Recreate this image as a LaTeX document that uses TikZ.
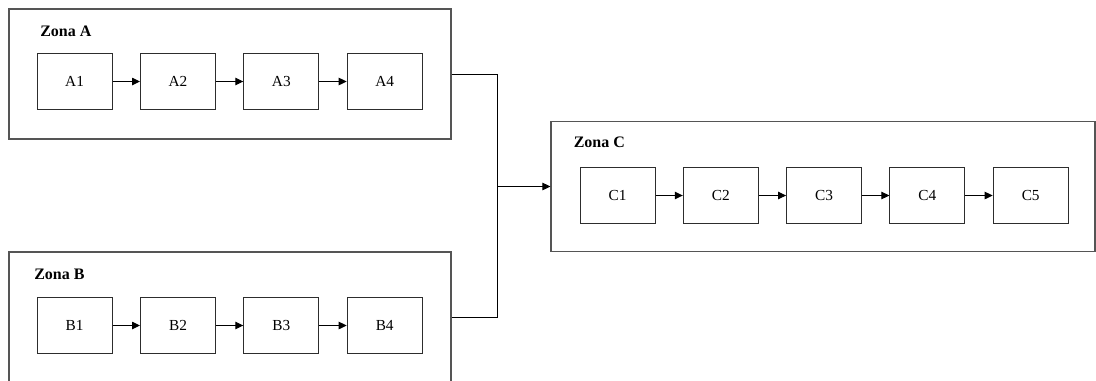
\documentclass[tikz,border=0pt]{standalone}
\usepackage{fontspec}
\setmainfont{Liberation Serif}
\usetikzlibrary{arrows.meta}
\definecolor{zoneline}{RGB}{85,85,85}
\definecolor{boxline}{RGB}{45,45,45}
\tikzset{
  zone/.style={draw=zoneline, line width=0.85pt, fill=white, inner sep=0pt,
    minimum height=97.5pt, anchor=center},
  stepbox/.style={draw=boxline, line width=0.75pt, fill=white, inner sep=0pt,
    minimum width=56.25pt, minimum height=42pt, font=\fontsize{11.5}{13}\selectfont},
  zonelabel/.style={anchor=west, inner sep=0pt, font=\fontsize{12}{14}\selectfont\bfseries},
  flow/.style={draw=black, line width=0.75pt, -{Triangle[length=6pt,width=5.6pt]}},
  link/.style={draw=black, line width=0.75pt}
}
\begin{document}
\begin{tikzpicture}[x=0.75pt, y=-0.75pt]
\useasboundingbox (0,0) rectangle (1096,380);
\clip (0,0) rectangle (1096,380);
% zones
\node[zone, minimum width=331.5pt] (zoneA) at (230,74) {};
\node[zone, minimum width=331.5pt] (zoneB) at (230,317) {};
\node[zone, minimum width=408pt] (zoneC) at (823,186.5) {};
% labels
\node[zonelabel] (labA) at (40,31.5) {Zona A};
\node[zonelabel] (labB) at (34,274.5) {Zona B};
\node[zonelabel] (labC) at (573.5,142) {Zona C};
% zone A boxes
\node[stepbox] (A1) at (74.6,81.5) {A1};
\node[stepbox] (A2) at (178,81.5) {A2};
\node[stepbox] (A3) at (281.3,81.5) {A3};
\node[stepbox] (A4) at (384.7,81.5) {A4};
% zone B boxes
\node[stepbox] (B1) at (74.6,325.5) {B1};
\node[stepbox] (B2) at (178,325.5) {B2};
\node[stepbox] (B3) at (281.3,325.5) {B3};
\node[stepbox] (B4) at (384.7,325.5) {B4};
% zone C boxes
\node[stepbox] (C1) at (617.5,195.5) {C1};
\node[stepbox] (C2) at (720.8,195.5) {C2};
\node[stepbox] (C3) at (824.1,195.5) {C3};
\node[stepbox] (C4) at (927.4,195.5) {C4};
\node[stepbox] (C5) at (1030.7,195.5) {C5};
% arrows inside zones
\draw[flow] (A1) -- (A2);
\draw[flow] (A2) -- (A3);
\draw[flow] (A3) -- (A4);
\draw[flow] (B1) -- (B2);
\draw[flow] (B2) -- (B3);
\draw[flow] (B3) -- (B4);
\draw[flow] (C1) -- (C2);
\draw[flow] (C2) -- (C3);
\draw[flow] (C3) -- (C4);
\draw[flow] (C4) -- (C5);
% merge connector
\coordinate (j) at (497.5,186.5);
\draw[link] (zoneA.east) -| (j) |- (zoneB.east);
\draw[flow] (j) -- (zoneC.west);
\end{tikzpicture}
\end{document}
